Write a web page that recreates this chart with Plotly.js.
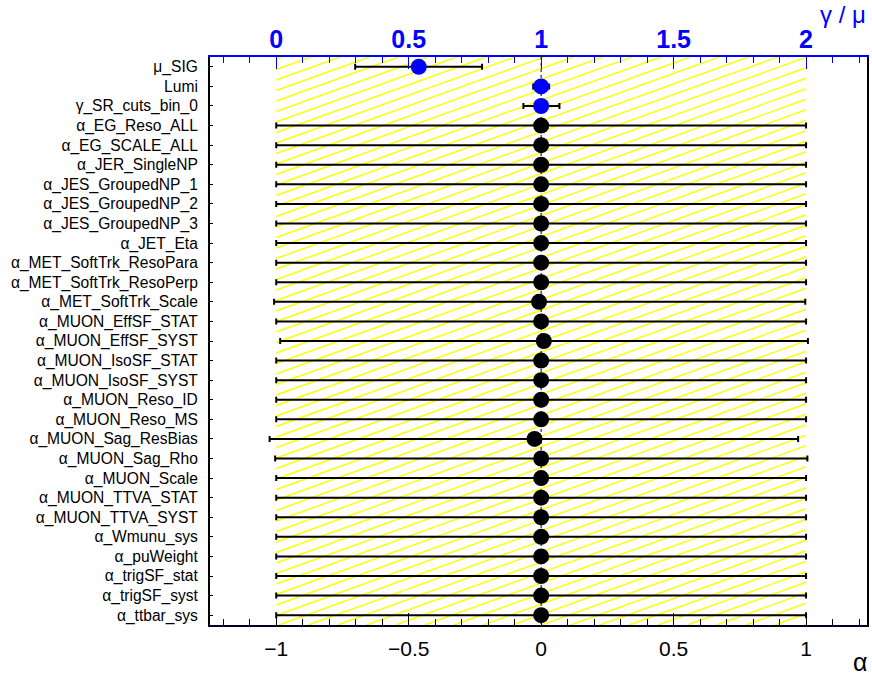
<!DOCTYPE html>
<html>
<head>
<meta charset="utf-8">
<script src="https://cdn.plot.ly/plotly-3.0.1.min.js"></script>
<style>html,body{margin:0;padding:0;background:#fff;}</style>
</head>
<body>
<div id="chart" style="width:872px;height:679px;"></div>
<script>
// ---- data ----
const poiNames = ["μ_SIG", "Lumi", "γ_SR_cuts_bin_0"];
const poiValues = [0.538, 1.0, 1.0];
const poiErrPlus = [0.239, 0.03, 0.069];
const poiErrMinus = [0.240, 0.03, 0.067];

const npNames = [
  "α_EG_Reso_ALL", "α_EG_SCALE_ALL", "α_JER_SingleNP", "α_JES_GroupedNP_1",
  "α_JES_GroupedNP_2", "α_JES_GroupedNP_3", "α_JET_Eta", "α_MET_SoftTrk_ResoPara",
  "α_MET_SoftTrk_ResoPerp", "α_MET_SoftTrk_Scale", "α_MUON_EffSF_STAT", "α_MUON_EffSF_SYST",
  "α_MUON_IsoSF_STAT", "α_MUON_IsoSF_SYST", "α_MUON_Reso_ID", "α_MUON_Reso_MS",
  "α_MUON_Sag_ResBias", "α_MUON_Sag_Rho", "α_MUON_Scale", "α_MUON_TTVA_STAT",
  "α_MUON_TTVA_SYST", "α_Wmunu_sys", "α_puWeight", "α_trigSF_stat",
  "α_trigSF_syst", "α_ttbar_sys"
];
const npValues = [0, 0, 0, 0, 0, 0, 0, 0, 0, -0.008, 0, 0.010, 0, 0, 0, 0, -0.025, 0, 0, 0, 0, 0, 0, 0, 0, 0];
const npErrPlus = [1, 1, 1, 1, 1, 1, 1, 1, 1, 1.005, 1, 0.997, 1, 1, 1, 1, 0.995, 1.005, 1, 1, 1, 1, 1, 1, 1, 1];
const npErrMinus = [1, 1, 1, 1, 1, 1, 1, 1, 1, 1.0, 1, 0.995, 1, 1, 1, 1, 1.0, 1.004, 1, 1, 1, 1, 1, 1, 1, 1];

const bandLow = -1, bandHigh = 1;
const alphaRange = [-1.25, 1.23];
const poiRange = [-0.25, 2.23];

// ---- layout geometry ----
const W = 872, H = 679;
const M = {l: 210, r: 5, t: 57, b: 54};
const PW = W - M.l - M.r, PH = H - M.t - M.b;

const allNames = poiNames.concat(npNames);
const nRows = allNames.length;
const poiRows = poiNames.map((_, i) => i);
const npRows = npNames.map((_, i) => i + poiNames.length);

// ---- hatch of the ±1 band (computed in pixel space, converted to data) ----
const pxPerX = PW / (alphaRange[1] - alphaRange[0]);
const rowPx = PH / nRows;
const slope = 0.36, spacing = 10.5;
const bx0 = (bandLow - alphaRange[0]) * pxPerX;
const bx1 = (bandHigh - alphaRange[0]) * pxPerX;
const hx = [], hy = [];
const toX = X => alphaRange[0] + X / pxPerX;
const toY = Y => -0.5 + Y / rowPx;
for (let c = 2; c < PH + slope * (bx1 - bx0); c += spacing) {
  const lo = Math.max(0, (c - PH) / slope);
  const hi = Math.min(bx1 - bx0, c / slope);
  if (hi <= lo) continue;
  hx.push(toX(bx0 + lo), toX(bx0 + hi), null);
  hy.push(toY(c - slope * lo), toY(c - slope * hi), null);
}

const font = "Liberation Sans, Arial, Helvetica, sans-serif";

const traces = [
  {x: hx, y: hy, mode: "lines", xaxis: "x", yaxis: "y", hoverinfo: "skip",
   line: {color: "#ffff00", width: 1.4}, showlegend: false},
  {x: [0, 0], y: [-0.5, nRows - 0.5], mode: "lines", xaxis: "x", yaxis: "y",
   line: {color: "#000000", width: 1, dash: "dot"}, showlegend: false, hoverinfo: "skip"},
  {x: npValues, y: npRows, mode: "markers", xaxis: "x", yaxis: "y", showlegend: false,
   marker: {color: "#000000", size: 16},
   error_x: {type: "data", symmetric: false, array: npErrPlus, arrayminus: npErrMinus,
             color: "#000000", thickness: 2, width: 3}},
  {x: poiValues, y: poiRows, mode: "markers", xaxis: "x2", yaxis: "y", showlegend: false,
   marker: {color: "#0000ff", size: 16},
   error_x: {type: "data", symmetric: false, array: poiErrPlus, arrayminus: poiErrMinus,
             color: "#000000", thickness: 2, width: 3}}
];

const layout = {
  width: W, height: H,
  margin: M,
  paper_bgcolor: "#ffffff", plot_bgcolor: "#ffffff",
  showlegend: false,
  font: {family: font, color: "#000000"},
  xaxis: {
    range: alphaRange, showgrid: false, zeroline: false,
    tick0: 0, dtick: 0.5, ticks: "inside", ticklen: 12, tickwidth: 1, tickcolor: "#000000",
    minor: {dtick: 0.1, ticks: "inside", ticklen: 6, tickwidth: 1, tickcolor: "#000000", showgrid: false},
    showline: true, linecolor: "#000022", linewidth: 2,
    tickfont: {family: font, size: 21, color: "#000000"},
    ticklabelstandoff: 4
  },
  xaxis2: {
    overlaying: "x", side: "top", range: poiRange, showgrid: false, zeroline: false,
    tick0: 0, dtick: 0.5, ticks: "inside", ticklen: 12, tickwidth: 1, tickcolor: "#0000ff",
    minor: {dtick: 0.1, ticks: "inside", ticklen: 6, tickwidth: 1, tickcolor: "#0000ff", showgrid: false},
    showline: true, linecolor: "#0000ff", linewidth: 2,
    tickfont: {family: font, size: 25, color: "#0000ff", weight: "bold"},
    ticklabelstandoff: -3
  },
  yaxis: {
    range: [nRows - 0.5, -0.5], showgrid: false, zeroline: false,
    tickvals: allNames.map((_, i) => i), ticktext: allNames,
    ticks: "inside", ticklen: 3, tickwidth: 1, tickcolor: "#000000",
    showline: true, linecolor: "#000000", linewidth: 2, mirror: true,
    tickfont: {family: font, size: 15.6, color: "#000000"},
    ticklabelstandoff: 7
  },
  annotations: [
    {text: "γ / μ", xref: "paper", yref: "paper", x: (868 - M.l) / PW, y: (H - M.b - 15) / PH,
     xanchor: "right", yanchor: "middle", showarrow: false,
     font: {family: font, size: 24, color: "#0000ff"}},
    {text: "α", xref: "paper", yref: "paper", x: (869 - M.l) / PW, y: (H - M.b - 662) / PH,
     xanchor: "right", yanchor: "middle", showarrow: false,
     font: {family: font, size: 25, color: "#000000"}}
  ]
};

Plotly.newPlot("chart", traces, layout, {displayModeBar: false, staticPlot: true});
</script>
</body>
</html>
